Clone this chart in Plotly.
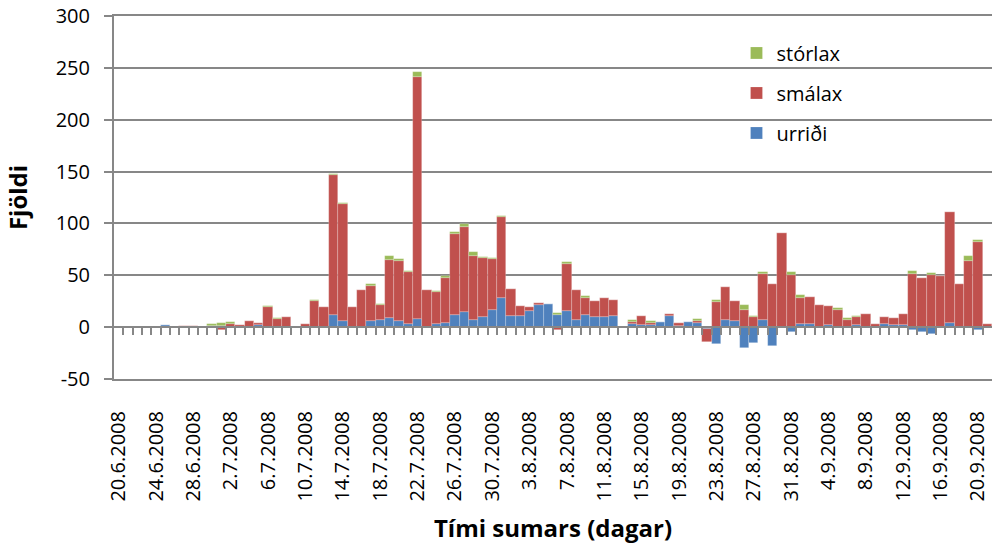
"""Daily fish counts (urriði, smálax, stórlax), summer 2008 - stacked columns."""
import pandas as pd
import plotly.graph_objects as go

# one category per day, 20.6.2008 - 21.9.2008
days = [f"{d.day}.{d.month}.{d.year}" for d in pd.date_range("2008-06-20", "2008-09-21")]
tick_labels = days[::4]
y_ticks = [-50, 0, 50, 100, 150, 200, 250, 300]

urridi = [0, 0, 0, 0, 0, 2, 0, 0, 0, 0,
          1, 1, 0, 0, 0, 2, 0, 0, 0, 0,
          0, 0, 0, 12, 6, 0, 0, 6, 7, 9,
          6, 3, 8, 0, 3, 4, 12, 15, 7, 10,
          17, 28, 11, 11, 16, 21, 22, 12, 16, 7,
          12, 10, 10, 11, 0, 3, 2, 2, 5, 11,
          1, 5, 4, -2, -16, 7, 6, -20, -15, 7,
          -18, 0, -5, 3, 3, 0, 2, 0, 0, 2,
          0, 0, 3, 2, 2, -3, -5, -7, 0, 4,
          0, 0, -3, 0]

smalax = [0, 0, 0, 0, 0, 0, 0, 1, 1, 0,
          0, -3, 3, 2, 6, 2, 19, 8, 10, 0,
          3, 25, 19, 135, 113, 19, 36, 34, 14, 56,
          58, 50, 233, 36, 31, 43, 78, 82, 62, 57,
          49, 78, 26, 9, 3, 2, 0, -3, 45, 29,
          16, 15, 18, 15, 0, 2, 9, 2, 0, 2,
          3, 0, 2, -12, 24, 32, 19, 17, 10, 44,
          42, 91, 50, 25, 26, 21, 18, 17, 7, 8,
          13, 3, 7, 7, 11, 51, 47, 50, 49, 107,
          42, 64, 82, 3]

storlax = [0, 0, 0, 0, 0, 0, 0, 0, 0, 0,
           2, 3, 2, 0, 0, 0, 1, 1, 0, 0,
           0, 1, 0, 1, 1, 0, 0, 2, 1, 4,
           2, 1, 5, 0, 1, 2, 2, 2, 3, 1,
           1, 1, 0, 0, 0, 0, 0, 2, 2, 0,
           2, 0, 0, 0, 0, 2, 0, 2, 0, 0,
           0, -1, 2, 0, 2, 0, 0, 4, 1, 2,
           0, 0, 3, 3, 0, 0, 0, 1, 2, 1,
           0, 0, 0, 0, 0, 3, 0, 2, 0, 0,
           0, 5, 2, 0]

GRID = "#878787"
FONT = "Open Sans"

# (name, values, colour, legend rank) - stacked bottom to top
series = [
    ("urriði", urridi, "#4F81BD", 3),
    ("smálax", smalax, "#C0504D", 2),
    ("stórlax", storlax, "#9BBB59", 1),
]

fig = go.Figure()
for name, values, color, rank in series:
    fig.add_trace(go.Bar(
        x=days,
        y=values,
        name=name,
        legendgroup=name,
        legendrank=rank,
        marker=dict(color=color, line=dict(color="rgba(255,255,255,0.35)", width=0.6)),
    ))

# empty trace so the overlaid zero-line axis gets drawn
fig.add_trace(go.Scatter(x=[None], y=[None], xaxis="x2", showlegend=False, hoverinfo="skip"))

n_days = len(days)

fig.update_layout(
    width=992,
    height=546,
    margin=dict(l=114, r=0, t=16, b=167),
    barmode="relative",
    bargap=0,
    plot_bgcolor="white",
    paper_bgcolor="white",
    font=dict(family=FONT, size=20, color="black"),
    legend=dict(
        x=0.709, y=0.952, xanchor="left", yanchor="top",
        traceorder="grouped", tracegroupgap=11,
        bgcolor="rgba(0,0,0,0)", font=dict(size=20),
    ),
    xaxis=dict(
        type="category",
        tickmode="array",
        tickvals=tick_labels,
        ticktext=tick_labels,
        tickangle=-90,
        ticks="",
        ticklabelstandoff=22,
        ticklabeloverflow="allow",
        automargin=False,
        showgrid=False,
        showline=True, linecolor=GRID, linewidth=2, mirror=True,
        title=dict(text="<b>Tími sumars (dagar)</b>", font=dict(size=24), standoff=20),
    ),
    # zero line with the day ticks hanging from it
    xaxis2=dict(
        overlaying="x",
        anchor="free",
        position=50 / 350,
        range=[-0.5, n_days - 0.5],
        tickmode="array",
        tickvals=[k + 0.5 for k in range(n_days - 1)],
        ticks="outside", ticklen=7, tickwidth=2, tickcolor=GRID,
        showticklabels=False,
        showgrid=False, zeroline=False,
        showline=True, linecolor=GRID, linewidth=2,
        layer="above traces",
    ),
    yaxis=dict(
        range=[-50, 300],
        tickmode="array",
        tickvals=y_ticks,
        ticktext=[str(v) for v in y_ticks],
        showgrid=True, gridcolor=GRID, gridwidth=2,
        zeroline=False,
        showline=True, linecolor=GRID, linewidth=2,
        ticks="outside", ticklen=8, tickwidth=2, tickcolor=GRID,
        ticklabelstandoff=10,
        ticklabeloverflow="allow",
        automargin=False,
        title=dict(text="<b>Fjöldi</b>", font=dict(size=24), standoff=21),
    ),
)

# drop the browser's default body margin so the figure fills the window
fig.write_html(
    "out.html",
    config={"displayModeBar": False},
    post_script="document.body.style.margin = '0';",
)
